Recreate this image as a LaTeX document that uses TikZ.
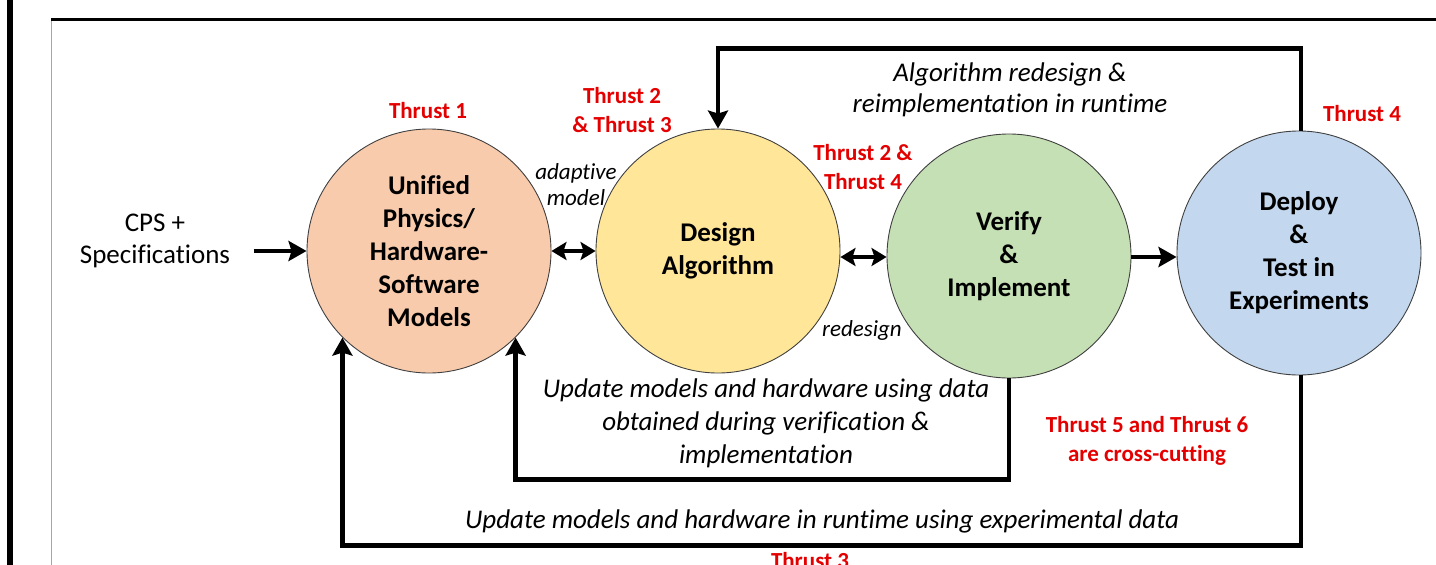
\documentclass[tikz,border=0pt]{standalone}
\usepackage{fontspec}
\setmainfont[Ligatures=NoCommon]{Carlito}
\usetikzlibrary{arrows.meta}
\definecolor{cOrange}{HTML}{F8CBAD}
\definecolor{cYellow}{HTML}{FFE699}
\definecolor{cGreen}{HTML}{C5E0B4}
\definecolor{cBlue}{HTML}{C3D7EE}
\definecolor{cRed}{RGB}{228,0,0}
\definecolor{cEdge}{HTML}{404040}
\tikzset{
  stage/.style={circle, draw=cEdge, line width=0.9pt, minimum size=244pt, inner sep=0pt,
    align=center, font=\fontsize{27}{33}\selectfont\bfseries},
  thrust/.style={text=cRed, align=center, font=\fontsize{23}{29}\selectfont\bfseries},
  note/.style={align=center, font=\fontsize{27}{33}\selectfont\itshape},
  smallnote/.style={align=center, font=\fontsize{23}{26}\selectfont\itshape},
  plain/.style={align=center, font=\fontsize{27}{32}\selectfont},
  flow/.style={line width=4.5pt, -{Stealth[length=18pt,width=20pt,inset=3pt]}},
  twoway/.style={line width=4.5pt, {Stealth[length=15pt,width=18pt,inset=3pt]}-{Stealth[length=15pt,width=18pt,inset=3pt]}},
}
\begin{document}
\begin{tikzpicture}[x=1pt,y=-1pt]
\useasboundingbox (0,0) rectangle (1436,565);
% frame
\fill[black] (7,0) rectangle (13,565);
\draw[gray!70, line width=1.2pt] (51.5,19) -- (51.5,565);
\draw[black, line width=3pt] (51,19.5) -- (1436,19.5);

% stages
\node[stage, fill=cOrange] (c1) at (429,251) {Unified\\Physics/\\Hardware-\\Software\\Models};
\node[stage, fill=cYellow] (c2) at (718,251) {Design\\Algorithm};
\node[stage, fill=cGreen]  (c3) at (1009,256) {Verify\\\&\\Implement};
\node[stage, fill=cBlue]   (c4) at (1299,253) {Deploy\\\&\\Test in\\Experiments};

% input
\node[plain] (cps) at (155,241) {CPS +\\Specifications};
\draw[flow] ([xshift=20pt]cps.east |- c1.west) -- (c1.west);

% horizontal links
\draw[twoway] (c1.east) -- (c2.west);
\draw[twoway] ([yshift=-6pt]c2.east) -- ([yshift=-1pt]c3.west);
\draw[flow] ([yshift=-1pt]c3.east) -- ([yshift=-4pt]c4.west);

% feedback loops
\draw[flow] ([xshift=2pt]c4.north) -- ++(0,-82) -| (c2.north);
\draw[flow] (c3.south) -- ++(0,101) -| (c1.-45);
\draw[flow] ([xshift=2pt]c4.south) -- ++(0,170) -| (c1.-135);

% labels
\node[thrust] (t1) at (428,111) {Thrust 1};
\node[thrust] (t23) at (622,110) {Thrust 2\\\& Thrust 3};
\node[smallnote] (ad) at (576,185) {adaptive\\model};
\node[thrust] (t24) at (863,167) {Thrust 2 \&\\Thrust 4};
\node[smallnote] (rd) at (862,330) {redesign};
\node[note, font=\fontsize{27}{31}\selectfont\itshape] (alg) at (1010,90) {Algorithm redesign \&\\reimplementation in runtime};
\node[thrust] (t4) at (1362,114) {Thrust 4};
\node[note] (up1) at (766,423) {Update models and hardware using data\\obtained during verification \&\\implementation};
\node[thrust] (t56) at (1147,441) {Thrust 5 and Thrust 6\\are cross-cutting};
\node[note] (up2) at (822,521) {Update models and hardware in runtime using experimental data};
\node[thrust, anchor=north] (t3) at (810,549) {Thrust 3};
\end{tikzpicture}
\end{document}
